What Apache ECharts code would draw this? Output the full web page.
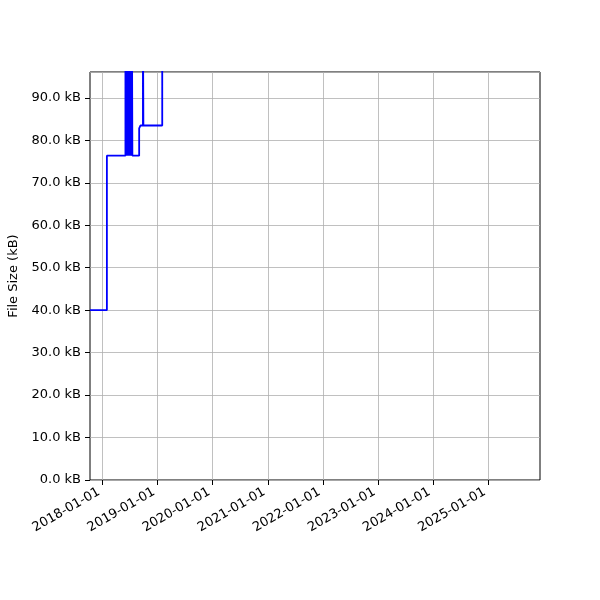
<!DOCTYPE html>
<html>
<head>
<meta charset="utf-8">
<script src="https://cdn.jsdelivr.net/npm/echarts@6/dist/echarts.min.js"></script>
<style>
  html, body { margin: 0; padding: 0; background: #fff; }
  #chart { width: 600px; height: 600px; }
</style>
</head>
<body>
<div id="chart"></div>
<script>
// commit dates and file sizes (kB); values above 96 kB run off the top of the plot
const dates = [
  '2017-10-10', '2018-01-30', '2018-06-02', '2018-06-05', '2018-06-08', '2018-06-12',
  '2018-06-16', '2018-06-20', '2018-06-24', '2018-06-28', '2018-07-02', '2018-07-06',
  '2018-07-10', '2018-07-13', '2018-07-15', '2018-07-18', '2018-09-01', '2018-09-10',
  '2018-09-26', '2018-09-29', '2019-02-01', '2025-11-01'
]
const sizes = [
  40.0, 76.4, 110.0, 76.4, 110.0, 76.4,
  110.0, 76.4, 110.0, 76.4, 110.0, 76.4,
  110.0, 76.4, 110.0, 76.4, 82.8, 83.5,
  110.0, 83.5, 120.0, 130.0
]
const yearTicks = [
  '2018-01-01', '2019-01-01', '2020-01-01', '2021-01-01',
  '2022-01-01', '2023-01-01', '2024-01-01', '2025-01-01'
]

const toTime = s => {
  const [y, m, d] = s.split('-').map(Number)
  return Date.UTC(y, m - 1, d)
}
const pad = n => (n < 10 ? '0' : '') + n
const fmtDate = v => {
  const d = new Date(v)
  return d.getUTCFullYear() + '-' + pad(d.getUTCMonth() + 1) + '-' + pad(d.getUTCDate())
}

const tickTimes = yearTicks.map(toTime)
const font = 'DejaVu Sans'

const chart = echarts.init(document.getElementById('chart'), null, { renderer: 'canvas' })

const option = {
  animation: false,
  textStyle: { fontFamily: font },
  grid: {
    left: 90, right: 60, top: 72, bottom: 120,
    containLabel: false,
    outerBoundsMode: 'none',
    show: true, borderColor: '#000', borderWidth: 1, backgroundColor: 'transparent'
  },
  xAxis: {
    type: 'value',
    min: toTime('2017-10-10'),
    max: toTime('2025-12-11'),
    axisLine: { show: false },
    axisTick: { show: true, length: 5, customValues: tickTimes, lineStyle: { color: '#000', width: 1 } },
    axisLabel: {
      customValues: tickTimes,
      rotate: 30,
      fontSize: 13,
      color: '#000',
      fontFamily: font,
      margin: 9,
      padding: [0, 4, 0, 0],
      formatter: v => fmtDate(v)
    },
    splitLine: { show: true, lineStyle: { color: '#b0b0b0', width: 0.8 } }
  },
  yAxis: {
    type: 'value',
    min: 0,
    max: 96.1,
    interval: 10,
    name: 'File Size (kB)',
    nameLocation: 'middle',
    nameGap: 68,
    nameTextStyle: { fontSize: 13, color: '#000', fontFamily: font },
    axisLine: { show: false },
    axisTick: { show: true, length: 5, lineStyle: { color: '#000', width: 1 } },
    axisLabel: {
      showMaxLabel: false,
      fontSize: 13,
      color: '#000',
      fontFamily: font,
      margin: 9,
      formatter: v => v.toFixed(1) + ' kB'
    },
    splitLine: { show: true, lineStyle: { color: '#b0b0b0', width: 0.8 } }
  },
  series: [
    {
      type: 'line',
      step: 'end',
      showSymbol: false,
      clip: true,
      data: dates.map((d, i) => [toTime(d), sizes[i]]),
      lineStyle: { color: '#0000ff', width: 1.8 }
    }
  ]
}

chart.setOption(option)
</script>
</body>
</html>
